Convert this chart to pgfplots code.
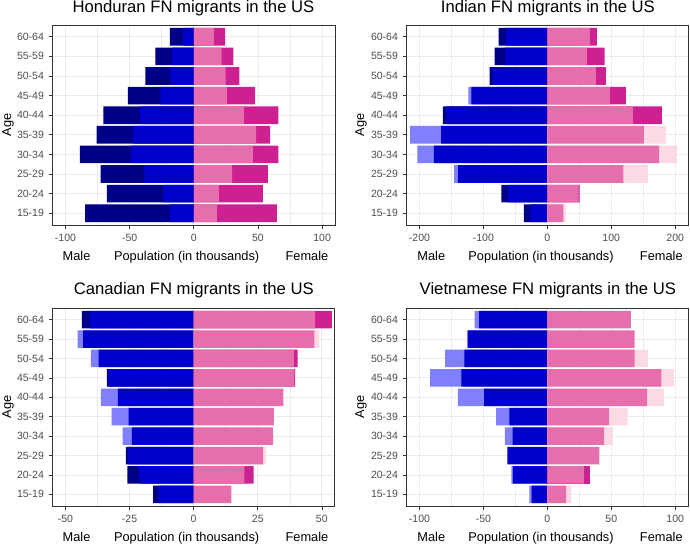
\documentclass[border=0pt]{standalone}
\usepackage{pgfplots}
\pgfplotsset{compat=1.18}
\usepackage{fontspec}
\setmainfont{Liberation Sans}
\definecolor{mblue}{RGB}{0,0,205}
\definecolor{dblue}{RGB}{0,0,135}
\definecolor{lblue}{RGB}{128,128,255}
\definecolor{mpink}{RGB}{230,110,172}
\definecolor{dpink}{RGB}{205,32,145}
\definecolor{lpink}{RGB}{252,218,228}
\pgfplotsset{
  pyr/.style={
    scale only axis,
    anchor=south west,
    xbar, bar width=0.9, bar shift=0pt,
    ymin=0.4, ymax=10.6,
    ytick={1,...,10},
    yticklabels={15-19,20-24,25-29,30-34,35-39,40-44,45-49,50-54,55-59,60-64},
    xmajorgrids, ymajorgrids, xminorgrids,
    minor x tick num=1,
    minor tick length=0pt,
    major tick length=3pt,
    tick align=outside,
    tick pos=left,
    major grid style={line width=0.6pt, color=black!8},
    minor grid style={line width=0.35pt, color=black!8},
    axis line style={black!80, line width=0.6pt},
    tick style={black!80, line width=0.5pt},
    ticklabel style={font=\fontsize{7.9}{9}\selectfont, text=black!70},
    every axis plot/.append style={draw=none},
  }
}
\newcommand{\bottomlabels}[4]{%
  \node[anchor=base west, font=\fontsize{9.6}{11}\selectfont] at (#1,#4) {Male};
  \node[anchor=base, font=\fontsize{9.6}{11}\selectfont] at (#2,#4) {Population (in thousands)};
  \node[anchor=base east, font=\fontsize{9.6}{11}\selectfont] at (#3,#4) {Female};
}
\begin{document}
\begin{tikzpicture}
\useasboundingbox (0,0) rectangle (517.5pt,409.5pt);
% ---------- Honduran ----------
\begin{axis}[pyr, at={(39.5pt,240.75pt)}, width=211.7pt, height=150pt,
  xmin=-110, xmax=110, xtick={-100,-50,0,50,100}, xticklabels={-100,-50,0,50,100}]
\addplot[fill=dblue] coordinates {(-84.7,1) (-67.8,2) (-72.7,3) (-88.8,4) (-75.8,5) (-70.4,6) (-51.4,7) (-37.7,8) (-29.9,9) (-18.7,10)};
\addplot[fill=mblue] coordinates {(-18.7,1) (-23.9,2) (-38.7,3) (-48.8,4) (-47.3,5) (-41.8,6) (-26.0,7) (-18.2,8) (-16.9,9) (-8.3,10)};
\addplot[fill=dpink] coordinates {(64.7,1) (53.8,2) (57.7,3) (66.0,4) (59.5,5) (66.0,6) (47.8,7) (35.6,8) (30.9,9) (24.4,10)};
\addplot[fill=mpink] coordinates {(17.9,1) (19.5,2) (29.9,3) (46.0,4) (48.6,5) (39.0,6) (25.7,7) (24.9,8) (21.6,9) (15.6,10)};
\end{axis}
% ---------- Indian ----------
\begin{axis}[pyr, at={(305pt,240.75pt)}, width=211pt, height=150pt,
  xmin=-220, xmax=220, xtick={-200,-100,0,100,200}, xticklabels={-200,-100,0,100,200}]
\addplot[fill=dblue] coordinates {(-36.5,1) (-71.9,2) (-163.5,6) (-90.1,8) (-82.3,9) (-76.0,10)};
\addplot[fill=lblue] coordinates {(-145.8,3) (-203.1,4) (-214.6,5) (-123.4,7)};
\addplot[fill=mblue] coordinates {(-26.6,1) (-61.5,2) (-139.6,3) (-177.6,4) (-166.1,5) (-157.8,6) (-118.8,7) (-85.4,8) (-66.1,9) (-64.6,10)};
\addplot[fill=dpink] coordinates {(50.5,2) (179.2,6) (122.9,7) (91.7,8) (89.6,9) (77.6,10)};
\addplot[fill=lpink] coordinates {(28.6,1) (157.3,3) (202.6,4) (185.4,5)};
\addplot[fill=mpink] coordinates {(25,1) (49,2) (118.8,3) (175,4) (151,5) (133.9,6) (97.9,7) (76,8) (62,9) (66.7,10)};
\end{axis}
% ---------- Canadian ----------
\begin{axis}[pyr, at={(39.5pt,30pt)}, width=211.5pt, height=148.5pt,
  xmin=-55, xmax=55, xtick={-50,-25,0,25,50}, xticklabels={-50,-25,0,25,50}]
\addplot[fill=dblue] coordinates {(-15.8,1) (-25.9,2) (-26.4,3) (-33.9,7) (-43.6,10)};
\addplot[fill=lblue] coordinates {(-27.7,4) (-32,5) (-36.2,6) (-40.1,8) (-45.3,9)};
\addplot[fill=mblue] coordinates {(-13.7,1) (-21.2,2) (-25.7,3) (-24.1,4) (-25.4,5) (-29.6,6) (-33.2,7) (-37.1,8) (-43.1,9) (-40.5,10)};
\addplot[fill=dpink] coordinates {(23.4,2) (39.6,7) (40.5,8) (53.9,10)};
\addplot[fill=lpink] coordinates {(28.3,3) (49.0,9)};
\addplot[fill=mpink] coordinates {(14.7,1) (19.8,2) (27.1,3) (31.0,4) (31.3,5) (35.0,6) (39.3,7) (39.1,8) (47.1,9) (47.4,10)};
\end{axis}
% ---------- Vietnamese ----------
\begin{axis}[pyr, at={(305pt,30pt)}, width=211pt, height=148.5pt,
  xmin=-110, xmax=110, xtick={-100,-50,0,50,100}, xticklabels={-100,-50,0,50,100}]
\addplot[fill=lblue] coordinates {(-14.1,1) (-28.1,2) (-33.3,4) (-40.1,5) (-70,6) (-91.7,7) (-80,8) (-63,9) (-56.8,10)};
\addplot[fill=mblue] coordinates {(-12.2,1) (-27.0,2) (-31.3,3) (-27.1,4) (-29.7,5) (-49.5,6) (-67.2,7) (-64.8,8) (-62,9) (-53.4,10)};
\addplot[fill=dpink] coordinates {(33.6,2)};
\addplot[fill=lpink] coordinates {(18.8,1) (51.3,4) (62.8,5) (91.1,6) (99.2,7) (78.6,8)};
\addplot[fill=mpink] coordinates {(14.6,1) (28.6,2) (40.6,3) (44.5,4) (48.2,5) (78.1,6) (89.1,7) (68.2,8) (68.2,9) (65.4,10)};
\end{axis}
% ---------- titles ----------
\node[anchor=base, font=\fontsize{12.5}{14}\selectfont] at (145.1pt,400pt) {Honduran FN migrants in the US};
\node[anchor=base, font=\fontsize{12.5}{14}\selectfont] at (410.9pt,400pt) {Indian FN migrants in the US};
\node[anchor=base, font=\fontsize{12.5}{14}\selectfont] at (145.4pt,188.5pt) {Canadian FN migrants in the US};
\node[anchor=base, font=\fontsize{12.5}{14}\selectfont] at (410.9pt,188.5pt) {Vietnamese FN migrants in the US};
% ---------- Age labels ----------
\node[rotate=90, font=\fontsize{9.6}{11}\selectfont] at (6pt,315.75pt) {Age};
\node[rotate=90, font=\fontsize{9.6}{11}\selectfont] at (270.75pt,315.75pt) {Age};
\node[rotate=90, font=\fontsize{9.6}{11}\selectfont] at (6pt,104.25pt) {Age};
\node[rotate=90, font=\fontsize{9.6}{11}\selectfont] at (270.75pt,104.25pt) {Age};
% ---------- bottom labels ----------
\bottomlabels{43.5pt}{140pt}{249.75pt}{214pt}
\bottomlabels{309.5pt}{405.75pt}{515.5pt}{214pt}
\bottomlabels{43.5pt}{140pt}{249.75pt}{3pt}
\bottomlabels{309.5pt}{405.75pt}{515.5pt}{3pt}
\end{tikzpicture}
\end{document}
